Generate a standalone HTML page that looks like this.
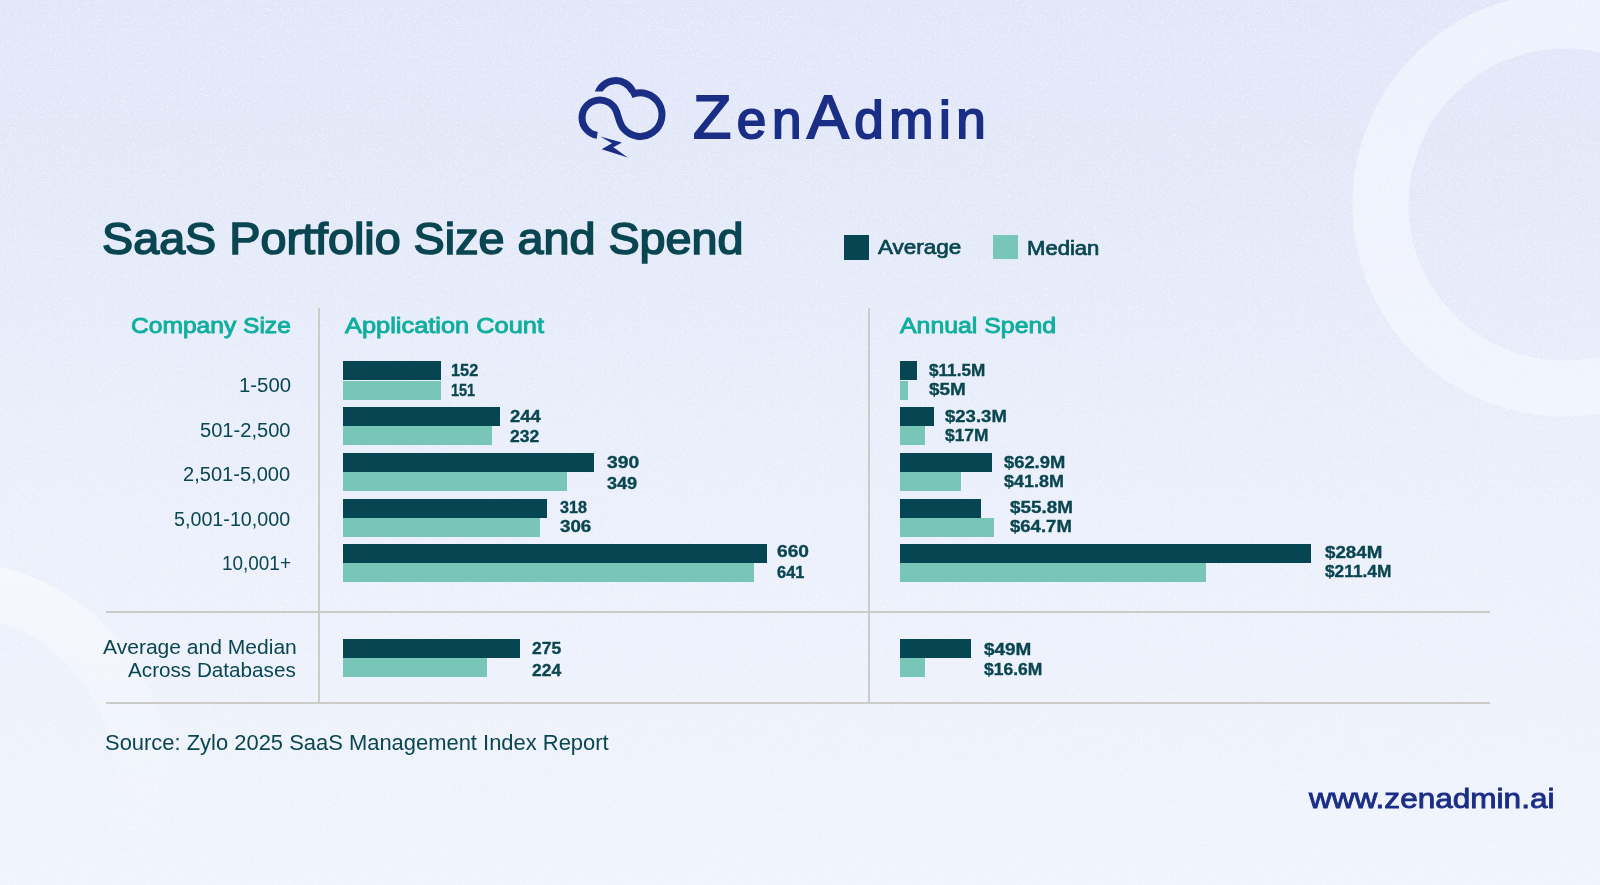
<!DOCTYPE html>
<html><head><meta charset="utf-8"><style>
html,body{margin:0;padding:0;}
body{width:1600px;height:885px;overflow:hidden;position:relative;font-family:"Liberation Sans", sans-serif;
background:linear-gradient(180deg,#e1e6f9 0%,#e6ebfa 30%,#ebf0fb 60%,#f0f4fc 100%);}
.t{position:absolute;white-space:nowrap;line-height:1;transform-origin:0 0;}
.b{position:absolute;}
.ln{position:absolute;background:#cbcbc8;}
</style></head><body>
<svg style="position:absolute;left:0;top:0" width="1600" height="885">
<defs>
<linearGradient id="rg2" gradientUnits="userSpaceOnUse" x1="0" y1="565" x2="0" y2="870"><stop offset="0" stop-color="#fff" stop-opacity="0.5"/><stop offset="0.5" stop-color="#fff" stop-opacity="0.2"/><stop offset="1" stop-color="#fff" stop-opacity="0"/></linearGradient>
</defs>
<filter id="nz" x="0" y="0" width="100%" height="100%"><feTurbulence type="fractalNoise" baseFrequency="0.85" numOctaves="2" seed="7" stitchTiles="stitch"/><feColorMatrix type="matrix" values="0 0 0 0 1  0 0 0 0 1  0 0 0 0 1  0 0 0 9 -5.6"/></filter>
<circle cx="1564.5" cy="204.6" r="184" fill="none" stroke="#f5f8ff" stroke-opacity="0.62" stroke-width="56"/>
<circle cx="-50" cy="780" r="192" fill="none" stroke="url(#rg2)" stroke-width="54"/>
<rect x="0" y="0" width="1600" height="885" filter="url(#nz)" opacity="0.5"/>

</svg>
<svg style="position:absolute;left:575px;top:70px" width="95" height="90" viewBox="0 0 95 90">
<defs><clipPath id="lc"><path d="M0 0 H95 V90 H36 V21.6 H0 Z"/></clipPath></defs>
<g fill="none" stroke="#1b2e86" stroke-width="7">
<path d="M22.2 65.4 A17.8 17.8 0 1 1 41.5 41.5 C43.55 47.14 44.64 54 48.5 58.6 A21.8 21.8 0 1 0 56 24.84"/>
<path clip-path="url(#lc)" d="M57.74 21.45 A18.8 18.8 0 0 0 22.54 24.53"/>
</g>
<path fill="#1b2e86" d="M25.2 66.6 L46.9 72.5 L38.4 77.3 L52.8 87.5 L26.7 79.3 L37 73.2 Z"/>
</svg>

<div class="ln" style="left:317.7px;top:308px;width:2.3px;height:395px"></div>
<div class="ln" style="left:867.7px;top:308px;width:2.3px;height:395px"></div>
<div class="ln" style="left:106px;top:610.6px;width:1384px;height:2.3px"></div>
<div class="ln" style="left:106px;top:701.8px;width:1384px;height:2.3px"></div>
<div class="b" style="left:844px;top:235px;width:25px;height:25px;background:#064552"></div>
<div class="b" style="left:993px;top:235px;width:24.5px;height:24px;background:#77c6b8"></div>
<div class='b' style='left:343.4px;top:361.2px;width:97.76px;height:19.3px;background:#064552'></div><div class='b' style='left:343.4px;top:380.5px;width:97.12px;height:19.1px;background:#77c6b8'></div><div class='b' style='left:900px;top:361.2px;width:17.23px;height:19.3px;background:#064552'></div><div class='b' style='left:900px;top:380.5px;width:7.83px;height:19.1px;background:#77c6b8'></div><div class='b' style='left:343.4px;top:406.9px;width:156.68px;height:19.3px;background:#064552'></div><div class='b' style='left:343.4px;top:426.2px;width:149.0px;height:19.1px;background:#77c6b8'></div><div class='b' style='left:900px;top:406.9px;width:34.3px;height:19.3px;background:#064552'></div><div class='b' style='left:900px;top:426.2px;width:25.19px;height:19.1px;background:#77c6b8'></div><div class='b' style='left:343.4px;top:452.8px;width:250.19px;height:19.3px;background:#064552'></div><div class='b' style='left:343.4px;top:472.1px;width:223.93px;height:19.1px;background:#77c6b8'></div><div class='b' style='left:900px;top:452.8px;width:91.58px;height:19.3px;background:#064552'></div><div class='b' style='left:900px;top:472.1px;width:61.06px;height:19.1px;background:#77c6b8'></div><div class='b' style='left:343.4px;top:498.5px;width:204.08px;height:19.3px;background:#064552'></div><div class='b' style='left:343.4px;top:517.8px;width:196.39px;height:19.1px;background:#77c6b8'></div><div class='b' style='left:900px;top:498.5px;width:81.31px;height:19.3px;background:#064552'></div><div class='b' style='left:900px;top:517.8px;width:94.19px;height:19.1px;background:#77c6b8'></div><div class='b' style='left:343.4px;top:543.9px;width:423.13px;height:19.3px;background:#064552'></div><div class='b' style='left:343.4px;top:563.1999999999999px;width:410.96px;height:19.1px;background:#77c6b8'></div><div class='b' style='left:900px;top:543.9px;width:411.41px;height:19.3px;background:#064552'></div><div class='b' style='left:900px;top:563.1999999999999px;width:306.39px;height:19.1px;background:#77c6b8'></div><div class='b' style='left:343.4px;top:638.8px;width:176.54px;height:19.2px;background:#064552'></div><div class='b' style='left:343.4px;top:658.0px;width:143.87px;height:19.2px;background:#77c6b8'></div><div class='b' style='left:900px;top:638.8px;width:71.48px;height:19.2px;background:#064552'></div><div class='b' style='left:900px;top:658.0px;width:24.61px;height:19.2px;background:#77c6b8'></div>
<div class='t' style='left:693.46px;top:86.65px;font-size:60.29px;font-weight:400;color:#1b2e86;transform:scaleX(1.0414);-webkit-text-stroke:1.8px #1b2e86;letter-spacing:5.3px;'>Z<span style="font-size:0.845em">en</span>A<span style="font-size:0.845em">dmin</span></div><div class='t' style='left:102.44px;top:216.65px;font-size:44.06px;font-weight:400;color:#0a4651;transform:scaleX(1.0606);-webkit-text-stroke:1.6px #0a4651;'>SaaS Portfolio Size and Spend</div><div class='t' style='left:878.00px;top:237.33px;font-size:20.43px;font-weight:400;color:#0a4651;transform:scaleX(1.1013);-webkit-text-stroke:0.7px #0a4651;'>Average</div><div class='t' style='left:1026.70px;top:238.20px;font-size:20.00px;font-weight:400;color:#0a4651;transform:scaleX(1.1031);-webkit-text-stroke:0.7px #0a4651;'>Median</div><div class='t' style='left:131.20px;top:314.53px;font-size:22.32px;font-weight:400;color:#10ae9e;transform:scaleX(1.1014);-webkit-text-stroke:0.9px #10ae9e;'>Company Size</div><div class='t' style='left:345.30px;top:314.53px;font-size:22.32px;font-weight:400;color:#10ae9e;transform:scaleX(1.1377);-webkit-text-stroke:0.9px #10ae9e;'>Application Count</div><div class='t' style='left:900.00px;top:314.93px;font-size:22.32px;font-weight:400;color:#10ae9e;transform:scaleX(1.1137);-webkit-text-stroke:0.9px #10ae9e;'>Annual Spend</div><div class='t' style='left:238.90px;top:375.45px;font-size:20.29px;font-weight:400;color:#0a4651;transform:scaleX(1.0040);'>1-500</div><div class='t' style='left:199.91px;top:420.15px;font-size:20.29px;font-weight:400;color:#0a4651;transform:scaleX(0.9911);'>501-2,500</div><div class='t' style='left:183.21px;top:464.45px;font-size:20.29px;font-weight:400;color:#0a4651;transform:scaleX(0.9897);'>2,501-5,000</div><div class='t' style='left:174.43px;top:509.15px;font-size:20.29px;font-weight:400;color:#0a4651;transform:scaleX(0.9720);'>5,001-10,000</div><div class='t' style='left:221.97px;top:553.25px;font-size:20.29px;font-weight:400;color:#0a4651;transform:scaleX(0.9333);'>10,001+</div><div class='t' style='left:103.00px;top:638.35px;font-size:19.71px;font-weight:400;color:#0a4651;transform:scaleX(1.0689);'>Average and Median</div><div class='t' style='left:128.40px;top:660.85px;font-size:19.71px;font-weight:400;color:#0a4651;transform:scaleX(1.0503);'>Across Databases</div><div class='t' style='left:105.29px;top:731.72px;font-size:21.74px;font-weight:400;color:#0a4651;transform:scaleX(1.0094);'>Source: Zylo 2025 SaaS Management Index Report</div><div class='t' style='left:1309.25px;top:784.24px;font-size:28.30px;font-weight:400;color:#1b2e86;transform:scaleX(1.1148);-webkit-text-stroke:0.9px #1b2e86;'>www.zenadmin.ai</div><div class='t' style='left:450.55px;top:362.24px;font-size:17.25px;font-weight:700;color:#0a4651;transform:scaleX(0.9464);-webkit-text-stroke:0.35px #0a4651;'>152</div><div class='t' style='left:450.66px;top:381.64px;font-size:17.25px;font-weight:700;color:#0a4651;transform:scaleX(0.8393);-webkit-text-stroke:0.35px #0a4651;'>151</div><div class='t' style='left:510.00px;top:407.69px;font-size:17.25px;font-weight:700;color:#0a4651;transform:scaleX(1.0655);-webkit-text-stroke:0.35px #0a4651;'>244</div><div class='t' style='left:510.00px;top:427.54px;font-size:17.25px;font-weight:700;color:#0a4651;transform:scaleX(1.0138);-webkit-text-stroke:0.35px #0a4651;'>232</div><div class='t' style='left:606.50px;top:453.94px;font-size:17.25px;font-weight:700;color:#0a4651;transform:scaleX(1.1161);-webkit-text-stroke:0.35px #0a4651;'>390</div><div class='t' style='left:606.50px;top:475.04px;font-size:17.25px;font-weight:700;color:#0a4651;transform:scaleX(1.0483);-webkit-text-stroke:0.35px #0a4651;'>349</div><div class='t' style='left:560.10px;top:499.04px;font-size:17.25px;font-weight:700;color:#0a4651;transform:scaleX(0.9362);-webkit-text-stroke:0.35px #0a4651;'>318</div><div class='t' style='left:560.10px;top:518.34px;font-size:17.25px;font-weight:700;color:#0a4651;transform:scaleX(1.0862);-webkit-text-stroke:0.35px #0a4651;'>306</div><div class='t' style='left:776.60px;top:543.34px;font-size:17.25px;font-weight:700;color:#0a4651;transform:scaleX(1.1125);-webkit-text-stroke:0.35px #0a4651;'>660</div><div class='t' style='left:776.60px;top:563.84px;font-size:17.25px;font-weight:700;color:#0a4651;transform:scaleX(0.9534);-webkit-text-stroke:0.35px #0a4651;'>641</div><div class='t' style='left:532.30px;top:639.69px;font-size:17.25px;font-weight:700;color:#0a4651;transform:scaleX(1.0103);-webkit-text-stroke:0.35px #0a4651;'>275</div><div class='t' style='left:532.30px;top:661.64px;font-size:17.25px;font-weight:700;color:#0a4651;transform:scaleX(1.0103);-webkit-text-stroke:0.35px #0a4651;'>224</div><div class='t' style='left:929.40px;top:361.69px;font-size:17.25px;font-weight:700;color:#0a4651;transform:scaleX(0.9929);-webkit-text-stroke:0.35px #0a4651;'>$11.5M</div><div class='t' style='left:929.40px;top:381.34px;font-size:17.25px;font-weight:700;color:#0a4651;transform:scaleX(1.0970);-webkit-text-stroke:0.35px #0a4651;'>$5M</div><div class='t' style='left:945.00px;top:407.54px;font-size:17.25px;font-weight:700;color:#0a4651;transform:scaleX(1.0746);-webkit-text-stroke:0.35px #0a4651;'>$23.3M</div><div class='t' style='left:945.00px;top:426.94px;font-size:17.25px;font-weight:700;color:#0a4651;transform:scaleX(1.0060);-webkit-text-stroke:0.35px #0a4651;'>$17M</div><div class='t' style='left:1003.75px;top:453.54px;font-size:17.25px;font-weight:700;color:#0a4651;transform:scaleX(1.0640);-webkit-text-stroke:0.35px #0a4651;'>$62.9M</div><div class='t' style='left:1003.75px;top:472.94px;font-size:17.25px;font-weight:700;color:#0a4651;transform:scaleX(1.0412);-webkit-text-stroke:0.35px #0a4651;'>$41.8M</div><div class='t' style='left:1010.00px;top:499.19px;font-size:17.25px;font-weight:700;color:#0a4651;transform:scaleX(1.0921);-webkit-text-stroke:0.35px #0a4651;'>$55.8M</div><div class='t' style='left:1010.00px;top:517.94px;font-size:17.25px;font-weight:700;color:#0a4651;transform:scaleX(1.0746);-webkit-text-stroke:0.35px #0a4651;'>$64.7M</div><div class='t' style='left:1325.40px;top:543.94px;font-size:17.25px;font-weight:700;color:#0a4651;transform:scaleX(1.0865);-webkit-text-stroke:0.35px #0a4651;'>$284M</div><div class='t' style='left:1325.40px;top:563.19px;font-size:17.25px;font-weight:700;color:#0a4651;transform:scaleX(1.0031);-webkit-text-stroke:0.35px #0a4651;'>$211.4M</div><div class='t' style='left:984.40px;top:641.14px;font-size:17.25px;font-weight:700;color:#0a4651;transform:scaleX(1.0976);-webkit-text-stroke:0.35px #0a4651;'>$49M</div><div class='t' style='left:984.40px;top:660.74px;font-size:17.25px;font-weight:700;color:#0a4651;transform:scaleX(1.0140);-webkit-text-stroke:0.35px #0a4651;'>$16.6M</div>
</body></html>
